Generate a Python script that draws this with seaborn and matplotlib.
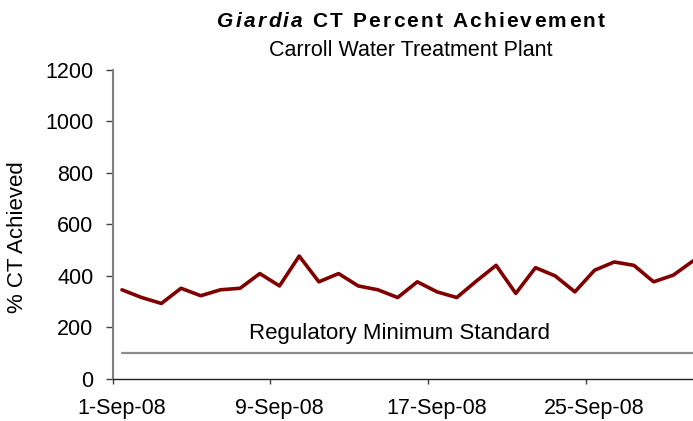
import pandas as pd
import seaborn as sns
import matplotlib.pyplot as plt

# daily values
dates = pd.date_range('2008-09-01', '2008-09-30', freq='D')
ct_pct = [346, 316, 293, 352, 323, 346, 352, 409, 361, 477,
          377, 409, 361, 346, 316, 377, 338, 316, 380, 441,
          332, 432, 400, 338, 422, 454, 441, 377, 403, 458]
reg_min = 100
tick_dates = ['2008-09-01', '2008-09-09', '2008-09-17', '2008-09-25']
y_ticks = [0, 200, 400, 600, 800, 1000, 1200]

sns.set_style('white')
plt.rcParams['font.family'] = ['Liberation Sans', 'DejaVu Sans']
plt.rcParams['text.color'] = 'black'
plt.rcParams['axes.labelcolor'] = 'black'
plt.rcParams['xtick.color'] = 'black'
plt.rcParams['ytick.color'] = 'black'

df = pd.DataFrame({'date': dates, 'ct': ct_pct, 'reg': reg_min})

fig = plt.figure(figsize=(6.93, 4.21), dpi=100)
ax = fig.add_axes([0.163, 0.100, 0.837, 0.734])

sns.lineplot(data=df, x='date', y='reg', ax=ax, color='#8c8c8c', linewidth=1.6)
sns.lineplot(data=df, x='date', y='ct', ax=ax, color='#800000', linewidth=2.6)

# excel-style date axis: ticks on day boundaries, labels on day centres
shift = pd.Timedelta(hours=11)
ax.set_xlim(dates[0] - shift, dates[-1])
ax.set_ylim(0, 1200)
ax.set_xticks([pd.Timestamp(d) - shift for d in tick_dates])
ax.set_xticklabels([])
ax.set_xticks([pd.Timestamp(d) for d in tick_dates], minor=True)
ax.set_xticklabels([f'{pd.Timestamp(d).day}-{pd.Timestamp(d):%b-%y}' for d in tick_dates],
                   minor=True, fontsize=15.5)
ax.set_yticks(y_ticks)
ax.set_yticklabels([str(v) for v in y_ticks], fontsize=15.5)
ax.tick_params(axis='x', which='major', direction='out', length=3.5, width=1,
               color='#404040', bottom=True)
ax.tick_params(axis='x', which='minor', length=0, pad=14, bottom=True)
ax.tick_params(axis='y', direction='out', length=5, width=1, color='#404040',
               pad=9, left=True)
ax.set_xlabel('')
ax.set_ylabel('% CT Achieved', fontsize=16)
ax.yaxis.label.set_verticalalignment('center')
ax.yaxis.set_label_coords(-0.165, 0.46)

for side in ['top', 'right']:
    ax.spines[side].set_visible(False)
ax.spines['left'].set_color('#808080')
ax.spines['left'].set_linewidth(1.5)
ax.spines['bottom'].set_color('#202020')
ax.spines['bottom'].set_linewidth(1.0)

mid = dates[0] + (dates[-1] - dates[0]) / 2
ax.text(mid - pd.Timedelta(days=0.4), 178, 'Regulatory Minimum Standard',
        ha='center', va='center', fontsize=16)

# title with letter spacing; genus name in italics
fig.canvas.draw()
r = fig.canvas.get_renderer()
title = 'Giardia CT Percent Achievement'
track = 2.2
parts = []
for i, ch in enumerate(title):
    t = fig.text(0, 0.948, ch, fontsize=15, fontweight='bold',
                 style='italic' if i < 7 else 'normal', va='center', ha='left')
    w = t.get_window_extent(r).width if ch != ' ' else 5.5
    parts.append((t, w))
total = sum(w for _, w in parts) + track * (len(parts) - 1)
x = 411 - total / 2
for t, w in parts:
    t.set_x(x / 693)
    x += w + track
fig.text(411 / 693, 0.881, 'Carroll Water Treatment Plant', fontsize=15.5,
         ha='center', va='center')

fig.savefig('out.png', dpi=100)
